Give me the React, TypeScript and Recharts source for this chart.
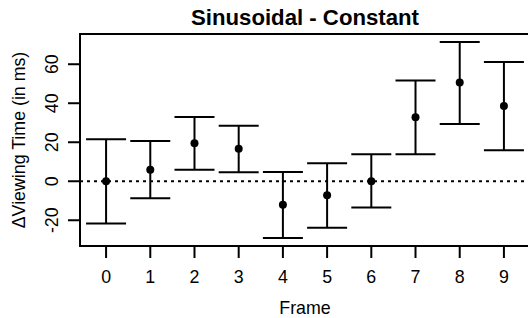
import {
    ErrorBar,
    ReferenceArea,
    ReferenceLine,
    Scatter,
    ScatterChart,
    XAxis,
    YAxis,
} from 'recharts';

const frames = [0, 1, 2, 3, 4, 5, 6, 7, 8, 9];
const means = [0, 5.9, 19.5, 16.6, -12, -7.2, 0, 32.8, 50.6, 38.6];
const lower = [-21.7, -8.7, 5.9, 4.6, -29.1, -23.8, -13.5, 13.9, 29.4, 15.9];
const upper = [21.5, 20.7, 33, 28.5, 4.8, 9.2, 13.9, 51.6, 71.4, 61.2];
const yTicks = [-20, 0, 20, 40, 60];

const xDomain = [-0.59, 9.59];
const yDomain = [-33.2, 75.5];

const FONT = '"Liberation Sans", Arial, sans-serif';

const data = frames.map((f, i) => ({
    frame: f,
    value: means[i],
    err: [means[i] - lower[i], upper[i] - means[i]],
}));

function XTick(props: any) {
    const { x, payload } = props;
    return (
        <text x={x} y={282.5} textAnchor="middle" fontFamily={FONT} fontSize={17.8} fill="#000">
            {payload.value}
        </text>
    );
}

function YTick(props: any) {
    const { y, payload } = props;
    return (
        <text
            transform={`translate(58.3, ${y}) rotate(-90)`}
            textAnchor="middle"
            fontFamily={FONT}
            fontSize={17.8}
            fill="#000"
        >
            {payload.value}
        </text>
    );
}

export default function App() {
    return (
        <div style={{ position: 'absolute', left: 0, top: 0, width: 528, height: 318, overflow: 'hidden', background: '#fff' }}>
            <ScatterChart width={540} height={318} margin={{ top: 34, right: 10, left: 20, bottom: 22 }}>
                <XAxis
                    type="number"
                    dataKey="frame"
                    domain={xDomain}
                    ticks={frames}
                    allowDataOverflow
                    axisLine={false}
                    tickLine={{ stroke: '#000', strokeWidth: 2 }}
                    tickSize={12}
                    height={50}
                    tick={<XTick />}
                    interval={0}
                />
                <YAxis
                    type="number"
                    dataKey="value"
                    domain={yDomain}
                    ticks={yTicks}
                    allowDataOverflow
                    axisLine={false}
                    tickLine={{ stroke: '#000', strokeWidth: 2 }}
                    tickSize={12}
                    width={60}
                    tick={<YTick />}
                    interval={0}
                />
                <ReferenceLine y={0} stroke="#000" strokeWidth={2} strokeDasharray="3 4" />
                <ReferenceArea
                    x1={xDomain[0]}
                    x2={xDomain[1]}
                    y1={yDomain[0]}
                    y2={yDomain[1]}
                    fill="none"
                    fillOpacity={0}
                    stroke="#000"
                    strokeWidth={2}
                />
                <Scatter data={data} fill="#000" isAnimationActive={false} shape={(p: any) => <circle cx={p.cx} cy={p.cy} r={4} fill="#000" />}>
                    <ErrorBar dataKey="err" direction="y" width={20} stroke="#000" strokeWidth={2} isAnimationActive={false} />
                </Scatter>
                <text x={305} y={25} textAnchor="middle" fontFamily={FONT} fontSize={22.2} fontWeight="bold" fill="#000">
                    Sinusoidal - Constant
                </text>
                <text x={305} y={314} textAnchor="middle" fontFamily={FONT} fontSize={17.8} fill="#000">
                    Frame
                </text>
                <text
                    transform="translate(24.5, 140) rotate(-90)"
                    textAnchor="middle"
                    fontFamily={FONT}
                    fontSize={17.8}
                    fill="#000"
                >
                    ΔViewing Time (in ms)
                </text>
            </ScatterChart>
        </div>
    );
}
